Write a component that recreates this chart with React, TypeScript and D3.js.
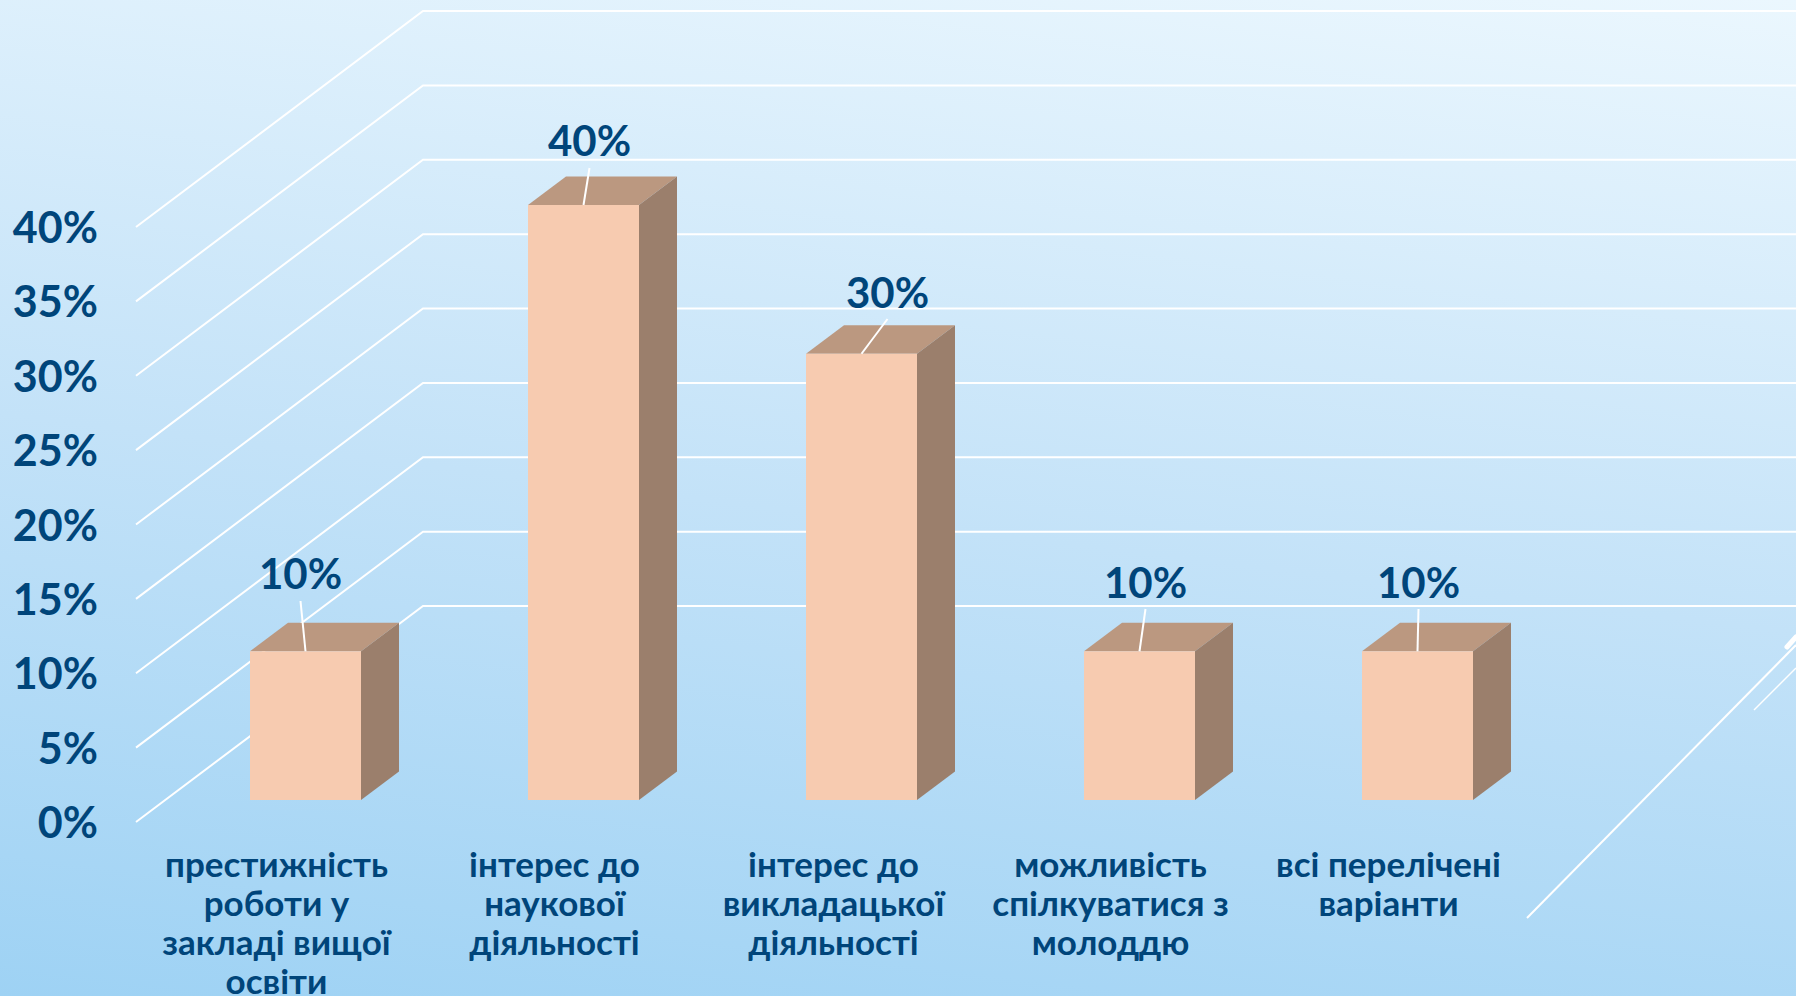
import React from "react";
import * as d3 from "d3";

const categories = [
  ["престижність", "роботи у", "закладі вищої", "освіти"],
  ["інтерес до", "наукової", "діяльності"],
  ["інтерес до", "викладацької", "діяльності"],
  ["можливість", "спілкуватися з", "молоддю"],
  ["всі перелічені", "варіанти"],
];
const values = [10, 40, 30, 10, 10];
const yTicks = [0, 5, 10, 15, 20, 25, 30, 35, 40];

const W = 1796, H = 996;
const FONT = "Lato, 'Noto Sans', sans-serif";
const INK = "#00457a";
const FRONT = "#f7cbb0", TOP = "#bb9880", SIDE = "#9b7f6c";

// layout of the pseudo-3D chart
const y = d3.scaleLinear().domain([0, 40]).range([800, 205]);
const x = d3.scaleBand<number>().domain(d3.range(values.length)).range([250, 1473]).paddingInner(0.6007).paddingOuter(0);
const wallDx = 287, wallDy = -216, wallX0 = 136, floorY0 = 822;
const depthX = 38, depthY = 28.5;
const wallY = d3.scaleLinear().domain([0, 40]).range([floorY0, floorY0 - 595]);
// label centre (relative to the bar centre) and leader end
const labelDx = [-5, 6, 26, 6, 1];
const labelBase = [589, 156, 307.5, 598, 598];
const leaderEnd = [601, 168, 319, 609, 609];
const catCenterDx = [-29, -29, -28, -29, -29];

export default function App() {
  const bw = x.bandwidth();
  return (
    <svg width={W} height={H} viewBox={`0 0 ${W} ${H}`} style={{ position: "absolute", left: 0, top: 0, display: "block" }} fontFamily={FONT}>
      <defs>
        <linearGradient id="bg" gradientUnits="userSpaceOnUse" x1={1796} y1={0} x2={1650} y2={1198}>
          <stop offset="0" stopColor="#ebf7fe" />
          <stop offset="0.52" stopColor="#c3e2f8" />
          <stop offset="1" stopColor="#9ed2f4" />
        </linearGradient>
      </defs>
      <rect width={W} height={H} fill="url(#bg)" />

      {/* decorative slide lines */}
      <g stroke="#fff" fill="none">
        <line x1={1527} y1={918} x2={1796} y2={645} strokeWidth={2} />
        <line x1={1754} y1={710} x2={1796} y2={668} strokeWidth={1.5} />
        <line x1={1787} y1={647} x2={1796} y2={637} strokeWidth={5} strokeLinecap="round" />
      </g>

      {/* gridlines */}
      <g stroke="#fff" fill="none">
        {yTicks.map((t) => {
          const fy = wallY(t);
          return (
            <path key={t} strokeWidth={2}
              d={d3.line()([[wallX0, fy], [wallX0 + wallDx, fy + wallDy], [W, fy + wallDy]]) as string} />
          );
        })}
      </g>

      {/* y tick labels */}
      <g fill={INK} fontSize={43} fontWeight={700} textAnchor="end">
        {yTicks.map((t) => (
          <text key={t} x={98} y={wallY(t) + 16}>{t}%</text>
        ))}
      </g>

      {/* bars */}
      {values.map((v, i) => {
        const l = x(i) as number, r = l + bw, t = y(v), b = y(0);
        return (
          <g key={i}>
            <polygon fill={TOP} points={[[l, t], [l + depthX, t - depthY], [r + depthX, t - depthY], [r, t]].join(" ")} />
            <polygon fill={SIDE} points={[[r, t], [r + depthX, t - depthY], [r + depthX, b - depthY], [r, b]].join(" ")} />
            <rect x={l} y={t} width={bw} height={b - t} fill={FRONT} />
          </g>
        );
      })}

      {/* leaders and data labels */}
      {values.map((v, i) => {
        const c = (x(i) as number) + bw / 2, t = y(v);
        return (
          <g key={i}>
            <line x1={c} y1={t} x2={c + labelDx[i]} y2={leaderEnd[i]} stroke="#fff" strokeWidth={2} />
            <text x={c + labelDx[i]} y={labelBase[i]} textAnchor="middle" fill={INK} fontSize={42} fontWeight={700}>{v}%</text>
          </g>
        );
      })}

      {/* category labels */}
      <g fill={INK} fontSize={35} fontWeight={700} textAnchor="middle">
        {categories.map((lines, i) => (
          <text key={i}>
            {lines.map((ln, j) => (
              <tspan key={j} x={(x(i) as number) + bw / 2 + catCenterDx[i]} y={877 + j * 39}>{ln}</tspan>
            ))}
          </text>
        ))}
      </g>
    </svg>
  );
}
